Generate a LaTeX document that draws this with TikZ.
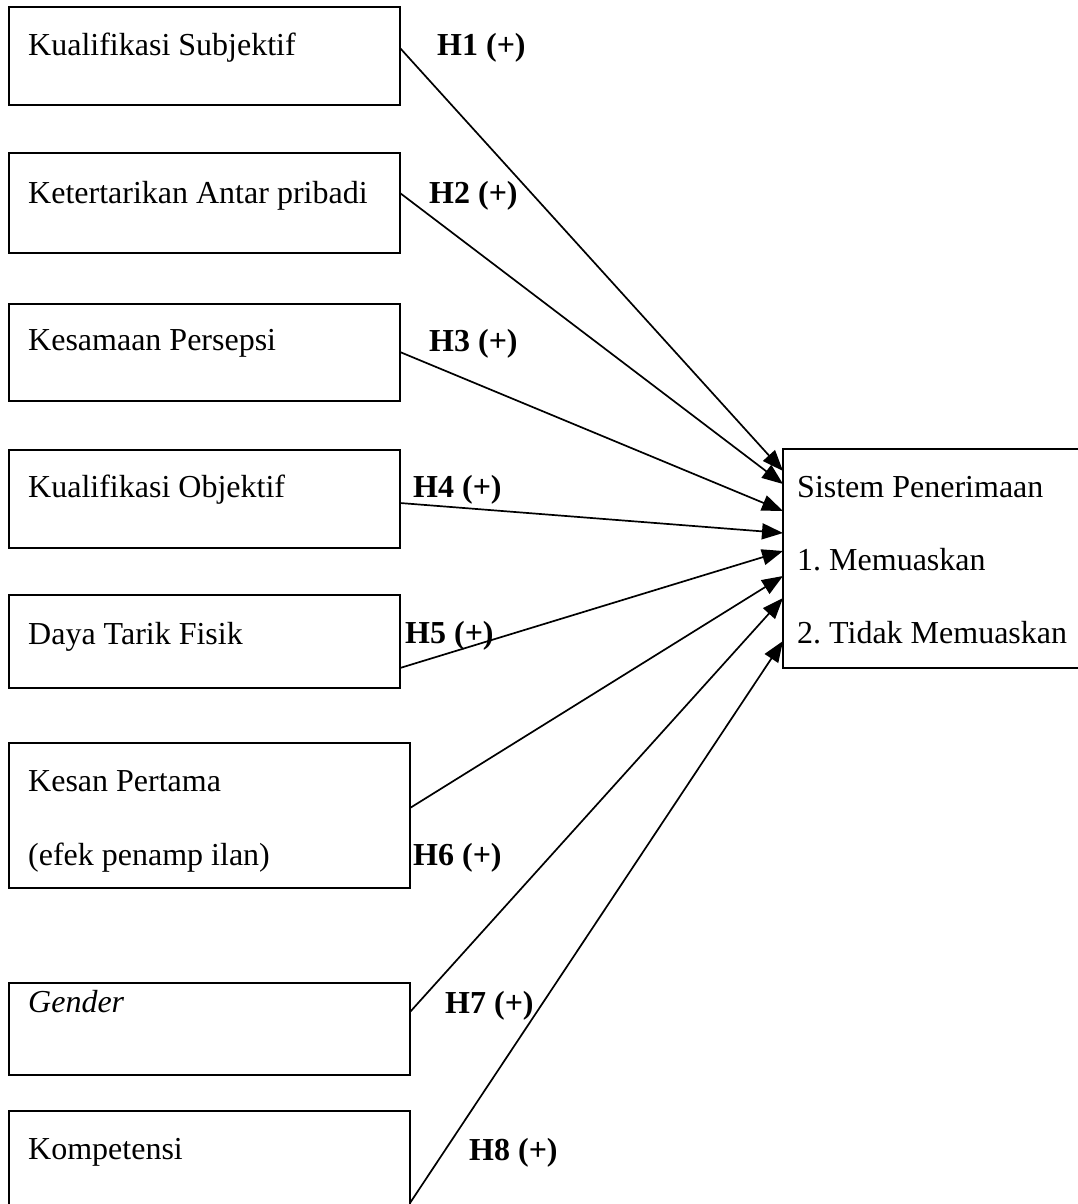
\documentclass[tikz,border=0pt]{standalone}
\usepackage{fontspec}
\setmainfont{Liberation Serif}
\usetikzlibrary{arrows.meta}
\frenchspacing
\begin{document}
\begin{tikzpicture}[x=1pt,y=-1pt,
  box/.style={draw, line width=2pt, anchor=north west, inner sep=0pt, outer sep=0pt},
  txt/.style={anchor=base west, inner sep=0pt, font=\fontsize{32}{38}\selectfont},
  hlab/.style={anchor=base west, inner sep=0pt, font=\fontsize{32}{38}\selectfont\bfseries},
  arr/.style={line width=1.7pt, -{Triangle[length=21pt,width=16pt]}}]
\useasboundingbox (0,0) rectangle (1078,1204);
\clip (0,0) rectangle (1078,1204);
% left boxes
\node[box, minimum width=391pt, minimum height=98pt] (b1) at (9,7) {};
\node[box, minimum width=391pt, minimum height=100pt] (b2) at (9,153) {};
\node[box, minimum width=391pt, minimum height=97pt] (b3) at (9,304) {};
\node[box, minimum width=391pt, minimum height=98pt] (b4) at (9,450) {};
\node[box, minimum width=391pt, minimum height=93pt] (b5) at (9,595) {};
\node[box, minimum width=401pt, minimum height=145pt] (b6) at (9,743) {};
\node[box, minimum width=401pt, minimum height=92pt] (b7) at (9,983) {};
\node[box, minimum width=401pt, minimum height=96pt] (b8) at (9,1111) {};
% target box
\node[box, minimum width=310pt, minimum height=219pt] (tgt) at (783,449) {};
% texts
\node[txt] (t1) at (28,56) {Kualifikasi Subjektif};
\node[txt] (t2) at (28,203) {Ketertarikan Antar pribadi};
\node[txt] (t3) at (28,350) {Kesamaan Persepsi};
\node[txt] (t4) at (28,497) {Kualifikasi Objektif};
\node[txt] (t5) at (28,644) {Daya Tarik Fisik};
\node[txt] (t6a) at (28,791) {Kesan Pertama};
\node[txt] (t6b) at (28,865) {(efek penamp ilan)};
\node[txt, font=\fontsize{32}{38}\selectfont\itshape] (t7) at (28,1012) {Gender};
\node[txt] (t8) at (28,1159) {Kompetensi};
\node[txt] (tt1) at (797,497) {Sistem Penerimaan};
\node[txt] (tt2) at (797,570) {1. Memuaskan};
\node[txt] (tt3) at (797,643) {2. Tidak Memuaskan};
% labels
\node[hlab] (h1) at (437,56) {H1 (+)};
\node[hlab] (h2) at (429,203) {H2 (+)};
\node[hlab] (h3) at (429,351) {H3 (+)};
\node[hlab] (h4) at (413,497) {H4 (+)};
\node[hlab] (h5) at (405,643) {H5 (+)};
\node[hlab] (h6) at (413,865) {H6 (+)};
\node[hlab] (h7) at (445,1013) {H7 (+)};
\node[hlab] (h8) at (469,1160) {H8 (+)};
% connectors
\draw[arr] (b1.east |- 0,48) -- (tgt.west |- 0,471);
\draw[arr] (b2.east |- 0,193) -- (tgt.west |- 0,484);
\draw[arr] (b3.east |- 0,352) -- (tgt.west |- 0,511);
\draw[arr] (b4.east |- 0,503) -- (tgt.west |- 0,533);
\draw[arr] (b5.east |- 0,668) -- (tgt.west |- 0,551);
\draw[arr] (b6.east |- 0,808) -- (tgt.west |- 0,576);
\draw[arr] (b7.east |- 0,1012) -- (tgt.west |- 0,598);
\draw[arr] (b8.east |- 0,1203) -- (tgt.west |- 0,641);
\end{tikzpicture}
\end{document}
